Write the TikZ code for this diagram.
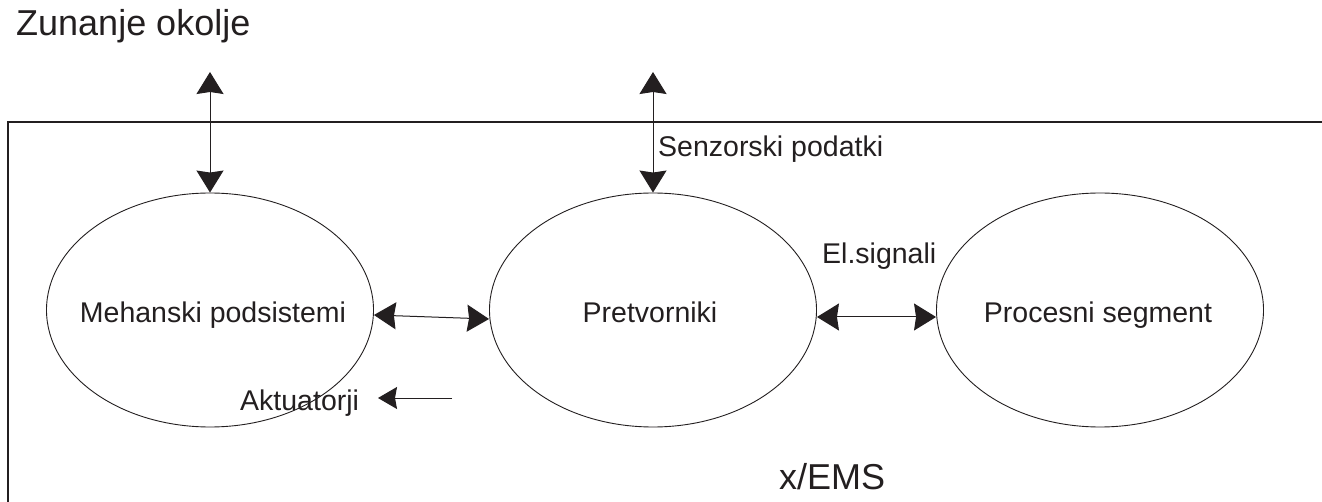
\documentclass[tikz,border=0pt]{standalone}
\usepackage{fontspec}
\setmainfont{Liberation Sans}
\usetikzlibrary{arrows.meta,shapes.geometric}
\definecolor{ink}{HTML}{231F20}
\tikzset{
  part/.style={ellipse, draw=ink, line width=0.9pt, minimum width=327pt,
    minimum height=234pt, inner sep=0pt},
  lbl/.style={inner sep=0pt, font=\fontsize{28.5}{32}\selectfont, text=ink},
  biglbl/.style={inner sep=0pt, font=\fontsize{36}{40}\selectfont, text=ink},
  link/.style={draw=ink, line width=1pt, {Stealth[length=22pt,width=27pt,inset=2pt]}-{Stealth[length=22pt,width=27pt,inset=2pt]}},
  onelink/.style={draw=ink, line width=1pt, -{Stealth[length=19pt,width=22pt,inset=2pt]}}
}
\begin{document}
\begin{tikzpicture}[x=1pt,y=-1pt]
\useasboundingbox (0,0) rectangle (1322,502);
\fill[white] (0,0) rectangle (1322,502);

% system boundary (only its top and left sides fall inside the page)
\draw[ink, line width=1.3pt] (1322,122) -- (8,122) -- (8,502);

% subsystems
\node[part] (m) at (210,310) {};
\node[part] (p) at (653,310) {};
\node[part] (s) at (1100,310) {};
\node[lbl, anchor=base] (mt) at (213,323) {Mehanski podsistemi};
\node[lbl, anchor=base] (pt) at (650,323) {Pretvorniki};
\node[lbl, anchor=base] (st) at (1098,323) {Procesni segment};

% labels
\node[biglbl, anchor=base west] (env) at (16,36) {Zunanje okolje};
\node[biglbl, anchor=base] (ems) at (832,489) {x/EMS};
\node[lbl, anchor=base west] (sen) at (658,157) {Senzorski podatki};
\node[lbl, anchor=base west] (el) at (822,264) {El.signali};
\node[lbl, anchor=base west] (akt) at (240,410) {Aktuatorji};

% links to the outside world
\coordinate (outm) at (210,72);
\coordinate (outp) at (653,72);
\draw[link] (outm) -- (m.north);
\draw[link] (outp) -- (p.north);

% links between subsystems
\draw[link] ([yshift=-5pt]m.east) -- ([yshift=-9pt]p.west);
\draw[link] ([yshift=-7pt]p.east) -- ([yshift=-7pt]s.west);

% actuator signal
\coordinate (akttail) at (452,398);
\coordinate (akthead) at (378,398);
\draw[onelink] (akttail) -- (akthead);
\end{tikzpicture}
\end{document}
